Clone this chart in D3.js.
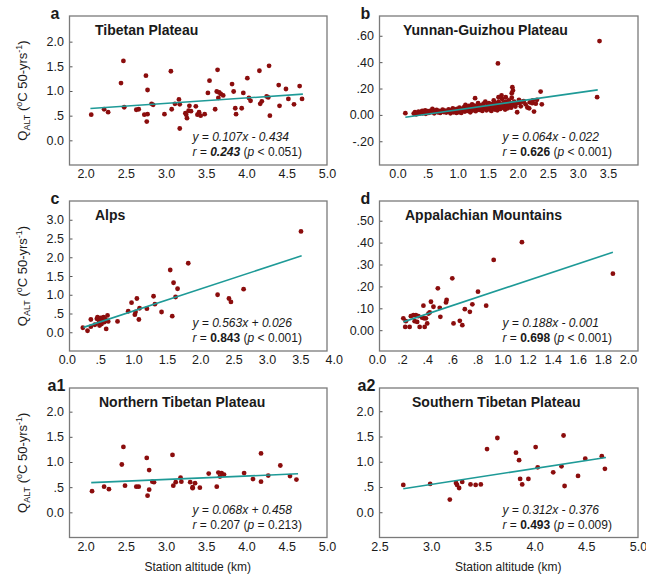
<!DOCTYPE html>
<html>
<head>
<meta charset="utf-8">
<script src="https://cdn.jsdelivr.net/npm/d3@7"></script>
<style>
  body { margin: 0; background: #fff; }
  svg { font-family: "Liberation Sans", Arial, sans-serif; }
</style>
</head>
<body>
<svg id="chart" width="646" height="584"></svg>
<script>
// Panel names, letters and stats
const panelLetters = ['a', 'b', 'c', 'd', 'a1', 'a2'];
const panelTitles = ['Tibetan Plateau', 'Yunnan-Guizhou Plateau', 'Alps', 'Appalachian Mountains',
                     'Northern Tibetan Plateau', 'Southern Tibetan Plateau'];
const eqTexts = ['y = 0.107x - 0.434', 'y = 0.064x - 0.022', 'y = 0.563x + 0.026',
                 'y = 0.188x - 0.001', 'y = 0.068x + 0.458', 'y = 0.312x - 0.376'];
const rValues = ['0.243', '0.626', '0.843', '0.698', '0.207', '0.493'];
const rBold = [true, true, true, true, false, true];
const pTexts = ['< 0.051)', '< 0.001)', '< 0.001)', '< 0.001)', '= 0.213)', '= 0.009)'];

// axis domains and ticks
const xDomains = [[1.8, 5.0], [-0.3, 4.0], [0.04, 3.9], [0.02, 2.08], [1.8, 5.0], [2.5, 5.0]];
const yDomains = [[-0.5, 2.52], [-0.38, 0.75], [-0.5, 3.5], [-0.095, 0.59], [-0.5, 2.47], [-0.5, 2.46]];
const xTicks = [
  [2.0, 2.5, 3.0, 3.5, 4.0, 4.5, 5.0],
  [0.0, 0.5, 1.0, 1.5, 2.0, 2.5, 3.0, 3.5],
  [0.0, 0.5, 1.0, 1.5, 2.0, 2.5, 3.0, 3.5, 4.0],
  [0.0, 0.2, 0.4, 0.6, 0.8, 1.0, 1.2, 1.4, 1.6, 1.8, 2.0],
  [2.0, 2.5, 3.0, 3.5, 4.0, 4.5, 5.0],
  [2.5, 3.0, 3.5, 4.0, 4.5, 5.0]
];
const xLabels = [
  ['2.0', '2.5', '3.0', '3.5', '4.0', '4.5', '5.0'],
  ['0.0', '.5', '1.0', '1.5', '2.0', '2.5', '3.0', '3.5'],
  ['0.0', '.5', '1.0', '1.5', '2.0', '2.5', '3.0', '3.5', '4.0'],
  ['0.0', '.2', '.4', '.6', '.8', '1.0', '1.2', '1.4', '1.6', '1.8', '2.0'],
  ['2.0', '2.5', '3.0', '3.5', '4.0', '4.5', '5.0'],
  ['2.5', '3.0', '3.5', '4.0', '4.5', '5.0']
];
const yTicks = [
  [0.0, 0.5, 1.0, 1.5, 2.0],
  [-0.2, 0.0, 0.2, 0.4, 0.6],
  [0.0, 0.5, 1.0, 1.5, 2.0, 2.5, 3.0],
  [0.0, 0.1, 0.2, 0.3, 0.4, 0.5],
  [0.0, 0.5, 1.0, 1.5, 2.0],
  [0.0, 0.5, 1.0, 1.5, 2.0]
];
const yLabels = [
  ['0.0', '.5', '1.0', '1.5', '2.0'],
  ['-.20', '0.00', '.20', '.40', '.60'],
  ['0.0', '.5', '1.0', '1.5', '2.0', '2.5', '3.0'],
  ['0.00', '.10', '.20', '.30', '.40', '.50'],
  ['0.0', '.5', '1.0', '1.5', '2.0'],
  ['0.0', '.5', '1.0', '1.5', '2.0']
];

// regression line ends as drawn
const fitLines = [
  [[2.06, 0.646], [4.70, 0.936]],
  [[0.13, -0.018], [3.33, 0.19]],
  [[0.25, 0.13], [3.52, 2.04]],
  [[0.21, 0.038], [1.88, 0.356]],
  [[2.07, 0.59], [4.64, 0.765]],
  [[2.73, 0.465], [4.69, 1.085]]
];

// station points (altitude km, Q_ALT)
const tibetanPts = [
  [2.07, 0.52], [2.23, 0.63], [2.28, 0.57], [2.44, 1.16], [2.47, 1.61], [2.48, 0.67],
  [2.63, 0.62], [2.66, 0.63], [2.73, 0.52], [2.75, 1.31], [2.76, 0.38], [2.77, 1.02],
  [2.77, 0.53], [2.82, 0.74], [2.84, 0.72], [2.98, 0.53], [3.06, 1.40], [3.07, 0.63],
  [3.11, 0.74], [3.16, 0.83], [3.17, 0.73], [3.17, 0.24], [3.24, 0.55], [3.25, 0.52],
  [3.26, 0.45], [3.28, 0.60], [3.29, 0.70], [3.31, 0.59], [3.37, 0.69], [3.39, 0.52],
  [3.41, 0.57], [3.43, 0.50], [3.48, 0.53], [3.52, 0.96], [3.54, 1.21], [3.61, 0.63],
  [3.64, 1.43], [3.63, 0.99], [3.65, 0.86], [3.66, 0.97], [3.68, 0.94], [3.71, 0.91],
  [3.82, 1.14], [3.84, 0.99], [3.86, 0.65], [3.87, 0.53], [3.94, 0.65], [3.96, 0.96],
  [4.01, 1.26], [4.03, 0.86], [4.05, 0.80], [4.16, 1.41], [4.17, 0.74], [4.19, 0.79],
  [4.25, 0.89], [4.27, 0.87], [4.28, 1.51], [4.29, 0.50], [4.40, 1.12], [4.41, 0.70],
  [4.49, 1.04], [4.52, 0.84], [4.59, 0.73], [4.66, 1.10], [4.69, 0.84]
];
const yunnanPts = [
  [0.13, 0.013], [0.27, 0.01], [0.29, 0.02], [0.31, 0.005], [0.33, 0.015], [0.35, 0.025],
  [0.37, 0.01], [0.39, 0.02], [0.41, 0.03], [0.42, 0.012], [0.44, 0.022], [0.46, 0.035],
  [0.47, 0.008], [0.49, 0.018], [0.50, 0.028], [0.52, 0.015], [0.54, 0.03], [0.56, 0.022],
  [0.58, 0.045], [0.60, 0.035], [0.61, 0.012], [0.63, 0.025], [0.65, 0.038], [0.67, 0.02],
  [0.69, 0.03], [0.71, 0.015], [0.73, 0.028], [0.75, 0.04], [0.77, 0.022], [0.79, 0.033],
  [0.81, 0.018], [0.83, 0.03], [0.85, 0.042], [0.87, 0.025], [0.88, 0.012], [0.90, 0.035],
  [0.92, 0.05], [0.93, 0.02], [0.95, 0.04], [0.96, 0.028], [0.98, 0.015], [0.99, 0.045],
  [1.00, 0.032], [1.02, 0.022], [1.03, 0.055], [1.05, 0.038], [1.06, 0.015], [1.08, 0.048],
  [1.09, 0.03], [1.11, 0.06], [1.12, 0.025], [1.13, 0.075], [1.15, 0.04], [1.16, 0.055],
  [1.17, 0.03], [1.19, 0.068], [1.20, 0.045], [1.21, 0.02], [1.23, 0.058], [1.24, 0.08],
  [1.25, 0.035], [1.27, 0.05], [1.28, 0.07], [1.29, 0.127], [1.30, 0.028], [1.31, 0.062],
  [1.32, 0.045], [1.34, 0.09], [1.35, 0.055], [1.36, 0.038], [1.38, 0.072], [1.39, 0.05],
  [1.41, 0.03], [1.42, 0.065], [1.43, 0.085], [1.45, 0.048], [1.46, 0.10], [1.47, 0.06],
  [1.48, 0.035], [1.50, 0.075], [1.51, 0.055], [1.52, 0.09], [1.53, 0.042], [1.55, 0.068],
  [1.56, 0.03], [1.57, 0.082], [1.58, 0.05], [1.60, 0.11], [1.61, 0.065], [1.62, 0.04],
  [1.63, 0.09], [1.64, 0.055], [1.65, 0.075], [1.66, 0.035], [1.67, 0.39], [1.68, 0.134],
  [1.68, 0.10], [1.69, 0.06], [1.70, 0.085], [1.71, 0.045], [1.72, 0.07], [1.73, 0.147],
  [1.74, 0.12], [1.75, 0.055], [1.76, 0.09], [1.78, 0.065], [1.79, 0.04], [1.80, 0.134],
  [1.80, 0.10], [1.82, 0.075], [1.83, 0.05], [1.85, 0.11], [1.86, 0.07], [1.88, 0.09],
  [1.89, 0.055], [1.90, 0.165], [1.90, 0.13], [1.91, 0.21], [1.92, 0.185], [1.92, 0.075],
  [1.94, 0.10], [1.96, 0.063], [1.97, 0.085], [1.99, 0.02], [2.02, 0.114], [2.03, 0.09],
  [2.05, 0.065], [2.08, 0.10], [2.10, 0.105], [2.13, 0.08], [2.16, 0.056], [2.19, 0.05],
  [2.20, 0.095], [2.24, 0.089], [2.25, 0.11], [2.27, 0.025], [2.30, 0.085], [2.32, 0.114],
  [2.38, 0.177], [2.40, 0.08], [3.32, 0.134], [3.36, 0.56]
];
const alpsPts = [
  [0.24, 0.12], [0.31, 0.04], [0.36, 0.34], [0.36, 0.15], [0.42, 0.20], [0.45, 0.36],
  [0.46, 0.40], [0.48, 0.25], [0.49, 0.18], [0.49, 0.29], [0.51, 0.38], [0.52, 0.22],
  [0.54, 0.32], [0.55, 0.40], [0.56, 0.27], [0.57, 0.36], [0.59, 0.09], [0.60, 0.31],
  [0.61, 0.45], [0.62, 0.29], [0.76, 0.29], [0.92, 0.56], [0.97, 0.79], [1.02, 0.47],
  [1.03, 0.54], [1.05, 0.90], [1.08, 0.34], [1.09, 0.64], [1.20, 0.63], [1.30, 0.96],
  [1.32, 0.75], [1.42, 0.54], [1.55, 1.66], [1.58, 0.43], [1.60, 1.32], [1.63, 0.94],
  [1.66, 1.16], [1.82, 1.84], [2.26, 1.00], [2.43, 0.90], [2.46, 0.81], [2.65, 1.15],
  [3.51, 2.69]
];
const appalachianPts = [
  [0.21, 0.054], [0.225, 0.015], [0.23, 0.041], [0.26, 0.015], [0.27, 0.064], [0.29, 0.069],
  [0.30, 0.041], [0.31, 0.069], [0.32, 0.038], [0.33, 0.064], [0.34, 0.015], [0.36, 0.057],
  [0.37, 0.112], [0.375, 0.054], [0.38, 0.015], [0.39, 0.054], [0.40, 0.031], [0.41, 0.076],
  [0.42, 0.081], [0.43, 0.13], [0.45, 0.107], [0.485, 0.191], [0.50, 0.102], [0.505, 0.061],
  [0.55, 0.127], [0.555, 0.138], [0.60, 0.237], [0.61, 0.031], [0.66, 0.043], [0.68, 0.023],
  [0.70, 0.096], [0.74, 0.084], [0.76, 0.118], [0.805, 0.176], [0.87, 0.112], [0.93, 0.321],
  [1.155, 0.402], [1.88, 0.258]
];
const northTpPts = [
  [2.08, 0.42], [2.23, 0.51], [2.29, 0.46], [2.45, 0.95], [2.47, 1.30], [2.49, 0.53],
  [2.63, 0.51], [2.66, 0.51], [2.76, 1.08], [2.77, 0.33], [2.79, 0.84], [2.79, 0.45],
  [2.83, 0.61], [2.85, 0.60], [3.08, 1.14], [3.09, 0.53], [3.12, 0.60], [3.18, 0.69],
  [3.19, 0.61], [3.30, 0.60], [3.33, 0.50], [3.33, 0.48], [3.36, 0.58], [3.42, 0.49],
  [3.53, 0.77], [3.63, 0.51], [3.65, 0.79], [3.67, 0.71], [3.69, 0.78], [3.72, 0.75],
  [3.97, 0.78], [4.08, 0.66], [4.18, 1.17], [4.18, 0.61], [4.27, 0.73], [4.42, 0.93],
  [4.54, 0.72], [4.62, 0.65]
];
const southTpPts = [
  [2.73, 0.54], [2.99, 0.56], [3.18, 0.25], [3.24, 0.58], [3.25, 0.54], [3.27, 0.48],
  [3.30, 0.60], [3.38, 0.55], [3.43, 0.54], [3.48, 0.55], [3.54, 1.25], [3.64, 1.47],
  [3.82, 1.18], [3.85, 1.03], [3.86, 0.66], [3.88, 0.55], [3.94, 0.66], [4.01, 1.29],
  [4.03, 0.89], [4.18, 0.79], [4.26, 0.91], [4.28, 1.52], [4.29, 0.52], [4.42, 0.72],
  [4.49, 1.06], [4.65, 1.11], [4.68, 0.86]
];
const panelPoints = [tibetanPts, yunnanPts, alpsPts, appalachianPts, northTpPts, southTpPts];

// layout
const colX = [[69.5, 327], [379.5, 638]];
const rowY = [[16, 165], [201, 351], [388, 537.5]];
const titleOffsets = [25.5, 23.5, 25.5, 25.5, 29.5, 32.5];
const POINT_COLOR = '#8b0d0d';
const LINE_COLOR = '#1e9a97';
const TEXT_COLOR = '#1a1a1a';

const svg = d3.select('#chart');

panelLetters.forEach((letter, i) => {
  const [x0, x1] = colX[i % 2];
  const [y0, y1] = rowY[Math.floor(i / 2)];
  const x = d3.scaleLinear().domain(xDomains[i]).range([x0, x1]);
  const y = d3.scaleLinear().domain(yDomains[i]).range([y1, y0]);
  const g = svg.append('g');

  // y axis with small inward ticks
  const yAxis = g.append('g')
    .attr('transform', `translate(${x0},0)`)
    .call(d3.axisLeft(y).tickValues(yTicks[i])
      .tickFormat((d, j) => yLabels[i][j]).tickSize(-3).tickSizeOuter(0).tickPadding(5.5));
  yAxis.select('.domain').remove();
  yAxis.selectAll('line').attr('stroke', '#555');
  yAxis.selectAll('text').attr('font-size', 12.5).attr('fill', TEXT_COLOR)
    .attr('font-family', '"Liberation Sans", Arial, sans-serif');

  const xAxis = g.append('g')
    .attr('transform', `translate(0,${y1})`)
    .call(d3.axisBottom(x).tickValues(xTicks[i])
      .tickFormat((d, j) => xLabels[i][j]).tickSize(0).tickPadding(4.5));
  xAxis.select('.domain').remove();
  xAxis.selectAll('text').attr('font-size', 12.5).attr('fill', TEXT_COLOR)
    .attr('font-family', '"Liberation Sans", Arial, sans-serif');

  // frame
  g.append('rect')
    .attr('x', x0).attr('y', y0)
    .attr('width', x1 - x0).attr('height', y1 - y0)
    .attr('fill', 'none').attr('stroke', '#7a7a7a').attr('stroke-width', 1.3);

  // points
  g.append('g').selectAll('circle')
    .data(panelPoints[i])
    .join('circle')
    .attr('cx', d => x(d[0]))
    .attr('cy', d => y(d[1]))
    .attr('r', 2.4)
    .attr('fill', POINT_COLOR);

  // regression line
  g.append('path')
    .datum(fitLines[i])
    .attr('d', d3.line().x(d => x(d[0])).y(d => y(d[1])))
    .attr('stroke', LINE_COLOR).attr('stroke-width', 1.6).attr('fill', 'none');

  // letter and title
  g.append('text')
    .attr('x', x0 - (letter.length > 1 ? 22 : 19)).attr('y', y0 + 2.5)
    .attr('font-size', 16).attr('font-weight', 'bold').attr('fill', TEXT_COLOR)
    .text(letter);
  g.append('text')
    .attr('x', x0 + titleOffsets[i]).attr('y', y0 + 19)
    .attr('font-size', 14).attr('font-weight', 'bold').attr('fill', TEXT_COLOR)
    .text(panelTitles[i]);

  // equation and r
  g.append('text')
    .attr('x', x0 + 123).attr('y', y1 - 24)
    .attr('font-size', 12).attr('font-style', 'italic').attr('fill', TEXT_COLOR)
    .text(eqTexts[i]);
  const rt = g.append('text')
    .attr('x', x0 + 123).attr('y', y1 - 9)
    .attr('font-size', 12).attr('fill', TEXT_COLOR);
  rt.append('tspan').attr('font-style', 'italic').text('r');
  rt.append('tspan').attr('font-style', i === 0 ? 'italic' : 'normal').text(' = ');
  rt.append('tspan')
    .attr('font-weight', rBold[i] ? 'bold' : 'normal')
    .attr('font-style', i === 0 ? 'italic' : 'normal')
    .text(rValues[i]);
  rt.append('tspan').text(' (');
  rt.append('tspan').attr('font-style', 'italic').text('p');
  rt.append('tspan').text(' ' + pTexts[i]);
});

// y axis titles on left column
rowY.forEach(([y0, y1]) => {
  const t = svg.append('text')
    .attr('transform', `translate(27,${(y0 + y1) / 2}) rotate(-90)`)
    .attr('text-anchor', 'middle')
    .attr('font-size', 13).attr('fill', TEXT_COLOR);
  t.append('tspan').text('Q');
  t.append('tspan').attr('font-size', 9).attr('dy', 3).text('ALT');
  t.append('tspan').attr('dy', -3).text(' (');
  t.append('tspan').attr('font-size', 9).attr('dy', -5).text('o');
  t.append('tspan').attr('dy', 5).text('C 50-yrs');
  t.append('tspan').attr('font-size', 9).attr('dy', -5).text('-1');
  t.append('tspan').attr('dy', 5).text(')');
});

// x axis titles
colX.forEach(([x0, x1]) => {
  svg.append('text')
    .attr('x', (x0 + x1) / 2 - 0.5).attr('y', 571)
    .attr('text-anchor', 'middle')
    .attr('font-size', 12).attr('fill', TEXT_COLOR)
    .text('Station altitude (km)');
});
</script>
</body>
</html>
